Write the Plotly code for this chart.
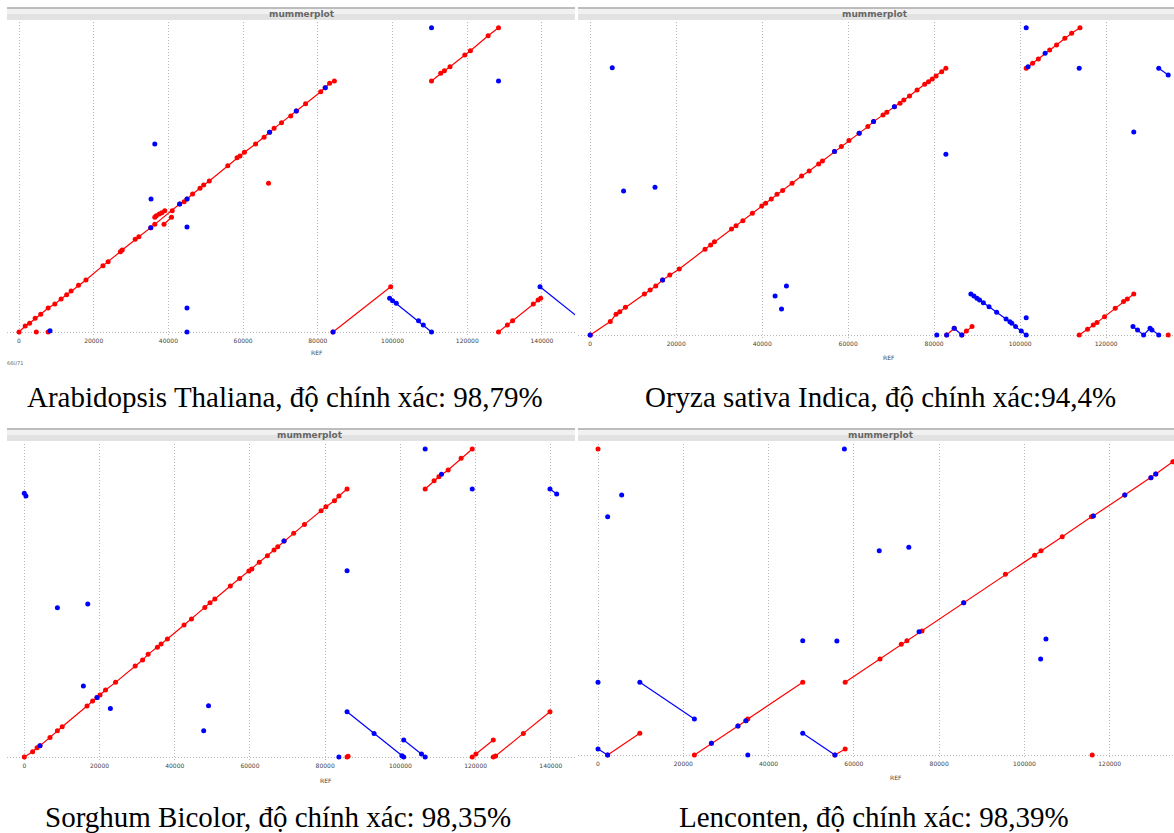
import plotly.graph_objects as go

W, H = 1174, 833

# ---------------- DATA (ref position, query position in bp) ----------------
# Panel 1: Arabidopsis Thaliana
tl_fwd_x = [0, 1660, 2840, 4330, 5820, 7800, 9590, 11270, 12760, 13950, 15930, 17920, 22480, 23860,
            27140, 27630, 31110, 32090, 35270, 36350, 41010, 43000, 44200, 44980, 46470, 48450, 49440,
            50940, 55890, 58360, 59160, 60340, 63330, 65610, 67080, 68290, 70270, 72740, 74230, 76720,
            80770, 81970, 83150, 84430, None,
            36350, 36760, 37560, 38250, 39030, None,
            38820, 40820, None,
            4630, None, 7800, None, 66790, None,
            84060, 99500, None,
            128360, 130740, 132130, 137680, 138960, 139650, None,
            110430, 112890, 113880, 115380, 119340, 120840, 125580, 128360]
tl_fwd_y = [0, 2020, 2920, 4590, 5950, 8060, 9410, 11090, 12540, 13780, 15690, 17470, 22300, 23620,
            26990, 27550, 31140, 32030, 35060, 36190, 40760, 43010, 43800, 44690, 46370, 48270, 49390,
            50740, 55890, 58580, 59140, 60370, 63170, 65410, 67090, 68430, 70340, 72580, 74260, 76710,
            80740, 82090, 83560, 84340, None,
            38540, 39080, 39650, 40080, 40760, None,
            36190, 38540, None,
            0, None, 0, None, 49960, None,
            0, 15220, None,
            0, 2350, 3800, 9410, 10750, 11320, None,
            84340, 86920, 87800, 89140, 93070, 94520, 99560, 102240]
tl_rev_x = [35270, None, 43000, None, 44980, None, 67080, None, 74230, None, 81970, None, 8300, None,
            35340, None, 36350, None, 44970, None, 44970, None, 44970, None, 84060, None,
            110430, None, 128360, None,
            99210, 100000, 101000, 106950, 108230, 110430, None,
            139470, 154600]
tl_rev_y = [35060, None, 43010, None, 44690, None, 67090, None, 74260, None, 82090, None, 440, None,
            44690, None, 63170, None, 35280, None, 8060, None, 0, None, 0, None,
            102240, None, 84340, None,
            11320, 10520, 9640, 3800, 2350, 0, None,
            15220, 0]

# Panel 2: Oryza sativa Indica
tr_fwd_x = [0, 4675, 6000, 6880, 8200, 12600, 13930, 15250, 16830, 18500, 20710, 26700, 28020, 28900,
            32870, 33920, 35510, 37710, 39910, 40800, 42120, 43440, 44760, 46960, 49170, 50930, 53130,
            54010, 56830, 58420, 60180, 62560, 64580, 65910, 68110, 68990, 70750, 72070, 72950, 74270,
            76030, 77800, 78680, 79560, 80440, 81760, 82730, None,
            101410, 102900, 104230, 106870, 108460, 110400, 111980, 113920, None,
            82910, 84670, None,
            86430, 87490, 88810, None,
            113740, 115680, 117000, 117880, 119640, 122120, 124050, 124930, 126430, None,
            134440]
tr_fwd_y = [0, 4180, 6420, 7240, 8590, 12720, 13960, 15200, 17060, 18610, 20470, 26560, 27900, 28940,
            32860, 33900, 35440, 37720, 39990, 40820, 42180, 43630, 44760, 47040, 49310, 50860, 53030,
            53960, 56850, 58400, 60260, 62530, 64600, 66150, 68210, 69040, 70790, 71830, 72860, 74100,
            75960, 77720, 78540, 79370, 80300, 81640, 82670, None,
            82670, 84220, 85560, 88350, 89900, 91970, 93520, 95280, None,
            0, 2080, None,
            0, 1250, 2600, None,
            0, 1770, 3110, 3840, 5690, 8280, 10350, 11170, 12720, None,
            0]
tr_rev_x = [0, None, 16830, None, 56830, None, 62560, None, 65910, None, 70750, None, 101850, None,
            105810, None, 101410, None, 113740, None, 126430, None, 82730, None, 5120, None, 7760, None,
            15070, None, 43000, None, 45640, None, 44500, None, 101410, None, 80620, None, 82910, None,
            132240, 134440, None,
            88540, 89250, 89950, 90570, 91450, 92770, 94540, 96740, 97620, 98070, 98950, 100260, 101410, None,
            84670, 86430, None,
            126250, 127310, 128720, 130220, 130660, 132240]
tr_rev_y = [0, None, 17060, None, 56850, None, 62530, None, 66150, None, 70790, None, 83190, None,
            87320, None, 95280, None, 82670, None, 62940, None, 56020, None, 82880, None, 44660, None,
            45800, None, 12100, None, 15200, None, 8070, None, 5380, None, 0, None, 0, None,
            82670, 80610, None,
            12720, 12100, 11380, 10860, 10030, 8790, 7040, 4970, 4140, 3630, 2600, 1250, 0, None,
            2080, 0, None,
            2600, 1560, 0, 2080, 1560, 0]

# Panel 3: Sorghum Bicolor
bl_fwd_x = [0, 2210, 3390, 4170, 6830, 8800, 10080, 16680, 18160, 19340, 20130, 21600, 24260, 29480,
            31450, 32930, 35390, 36380, 38050, 42480, 44450, 48000, 49380, 50660, 54790, 57260, 59720,
            60510, 62480, 64640, 66410, 67400, 69070, 71630, 74490, 78920, 80200, 82470, 83650, 85820, None,
            106590, 108960, 110240, 112700, 116150, 119100, None,
            85820, None, 86100, None,
            119100, 120080, 124710, None,
            124710, 125310, 132690, 139780]
bl_fwd_y = [0, 1680, 2950, 3590, 6250, 8370, 9640, 16230, 17820, 18990, 19730, 21330, 23770, 28970,
            30880, 32690, 34920, 35980, 37570, 42040, 43950, 47650, 49140, 50310, 54450, 56890, 59230,
            59860, 61990, 64110, 65920, 66980, 68780, 71230, 74090, 78450, 79720, 81630, 83120, 85350, None,
            85350, 88000, 89280, 91400, 95120, 98090, None,
            0, None, 200, None,
            0, 940, 5400, None,
            0, 300, 7520, 14420]
bl_rev_x = [4170, None, 19340, None, 69070, None, 110930, None, 106590, None, 119100, None,
            0, 430, None, 8800, None, 16880, None, 85820, None, 15700, None, 22890, None, 48980, None,
            47700, None, 83650, None,
            139780, 141560, None,
            85820, 93000, 100390, 100880, None,
            100880, 105610, 106590]
bl_rev_y = [3590, None, 18990, None, 68780, None, 90020, None, 98090, None, 85350, None,
            83970, 83120, None, 47550, None, 48710, None, 59330, None, 22600, None, 15480, None, 16330, None,
            8370, None, 0, None,
            85350, 83760, None,
            14420, 7520, 400, 0, None,
            5400, 940, 0]

# Panel 4: Lenconten
br_fwd_x = [57960, 66130, 71110, 72440, 75990, 85760, 95540, 102380, 103890, 108860, 115700, 116140,
            123520, 129650, 130800, 134800, 142000, None,
            22600, 26600, 32820, 34690, 35130, 48010, None,
            2260, 9810, None,
            55560, 57960, None,
            0, None, 115880]
br_fwd_y = [25290, 33410, 38510, 39790, 43150, 53010, 62870, 69480, 71110, 75980, 82940, 83170,
            90480, 96510, 97790, 102080, 109300, None,
            0, 4060, 10090, 11950, 12530, 25290, None,
            0, 7540, None,
            0, 2090, None,
            106490, None, 0]
br_rev_x = [26600, None, 32820, None, 34690, None, 75280, None, 85760, None, 116140, None, 123520, None,
            129650, None, 130800, None, 5550, None, 2260, None, 57780, None, 65950, None, 72880, None,
            48010, None, 56010, None, 105040, None, 103800, None, 35130, None, 0, None,
            9810, 22600, None,
            0, 2260, None,
            48010, 55560]
br_rev_y = [4060, None, 10090, None, 11950, None, 42920, None, 53010, None, 83170, None, 90480, None,
            96510, None, 97790, None, 90480, None, 82940, None, 106490, None, 71110, None, 72270, None,
            39790, None, 39670, None, 40370, None, 33410, None, 0, None, 25290, None,
            25290, 12530, None,
            2090, 0, None,
            7540, 0]

tick_vals_long = [0, 20000, 40000, 60000, 80000, 100000, 120000, 140000]
tick_vals_short = [0, 20000, 40000, 60000, 80000, 100000, 120000]
captions = ["Arabidopsis Thaliana, độ chính xác: 98,79%",
            "Oryza sativa Indica, độ chính xác:94,4%",
            "Sorghum Bicolor, độ chính xác: 98,35%",
            "Lenconten, độ chính xác: 98,39%"]

# ---------------- LAYOUT (pixel boxes) ----------------
panels = [
    dict(fx=tl_fwd_x, fy=tl_fwd_y, rx=tl_rev_x, ry=tl_rev_y, box=(7, 575, 22, 336),
         xr=[-3212, 148840], yr=[-1344, 104160], ticks=tick_vals_long,
         bar=(7, 575, 8, 20), title_x=302, title_y=14, ref=(317, 353), cap=(285, 397)),
    dict(fx=tr_fwd_x, fy=tr_fwd_y, rx=tr_rev_x, ry=tr_rev_y, box=(578, 1174, 22, 339),
         xr=[-2840, 135790], yr=[-1240, 97030], ticks=tick_vals_short,
         bar=(578, 1174, 8, 20), title_x=875, title_y=14, ref=(889, 357), cap=(880, 397)),
    dict(fx=bl_fwd_x, fy=bl_fwd_y, rx=bl_rev_x, ry=bl_rev_y, box=(7, 575, 444, 761),
         xr=[-4600, 146430], yr=[-1274, 99690], ticks=tick_vals_long,
         bar=(7, 575, 429, 441), title_x=310, title_y=435, ref=(326, 780), cap=(278, 817)),
    dict(fx=br_fwd_x, fy=br_fwd_y, rx=br_rev_x, ry=br_rev_y, box=(578, 1174, 444, 759),
         xr=[-4690, 135070], yr=[-1392, 108230], ticks=tick_vals_short,
         bar=(578, 1174, 429, 441), title_x=881, title_y=435, ref=(896, 777), cap=(874, 817)),
]

RED = "rgb(255,0,0)"
BLUE = "rgb(0,0,255)"
GRID = "#b8b8b8"

fig = go.Figure()
layout = dict(width=W, height=H, margin=dict(l=0, r=0, t=0, b=0),
              paper_bgcolor="white", plot_bgcolor="white", showlegend=False)
shapes, annotations = [], []

for i, p in enumerate(panels):
    sfx = "" if i == 0 else str(i + 1)
    xa, ya = "x" + sfx, "y" + sfx
    fig.add_trace(go.Scatter(x=p["fx"], y=p["fy"], mode="lines+markers", xaxis=xa, yaxis=ya,
                             line=dict(color=RED, width=1.2),
                             marker=dict(color=RED, size=5, line=dict(width=0)),
                             hoverinfo="skip"))
    fig.add_trace(go.Scatter(x=p["rx"], y=p["ry"], mode="lines+markers", xaxis=xa, yaxis=ya,
                             line=dict(color=BLUE, width=1.2),
                             marker=dict(color=BLUE, size=5, line=dict(width=0)),
                             hoverinfo="skip"))
    x0, x1, y0, y1 = p["box"]
    layout["xaxis" + sfx] = dict(domain=[x0 / W, x1 / W], range=p["xr"], anchor=ya,
                                 tickvals=p["ticks"], ticktext=[str(t) for t in p["ticks"]],
                                 showgrid=True, griddash="1px,2px", gridcolor=GRID, gridwidth=1,
                                 zeroline=False, showline=False, ticks="",
                                 tickfont=dict(size=6, color="#444", family="DejaVu Sans"),
                                 ticklabelstandoff=0, fixedrange=True)
    layout["yaxis" + sfx] = dict(domain=[1 - y1 / H, 1 - y0 / H], range=p["yr"], anchor=xa,
                                 tickvals=[0], showticklabels=False,
                                 showgrid=True, griddash="1px,2px", gridcolor=GRID, gridwidth=1,
                                 zeroline=False, showline=False, ticks="", fixedrange=True)
    # title bar
    bx0, bx1, by0, by1 = p["bar"]
    mid = (by0 + by1) / 2
    shapes.append(dict(type="rect", xref="paper", yref="paper", x0=bx0 / W, x1=bx1 / W,
                       y0=1 - mid / H, y1=1 - by0 / H, fillcolor="#f1f1f1", line=dict(width=0)))
    shapes.append(dict(type="rect", xref="paper", yref="paper", x0=bx0 / W, x1=bx1 / W,
                       y0=1 - by1 / H, y1=1 - mid / H, fillcolor="#e2e2e2", line=dict(width=0)))
    shapes.append(dict(type="line", xref="paper", yref="paper", x0=bx0 / W, x1=bx1 / W,
                       y0=1 - by0 / H, y1=1 - by0 / H, line=dict(color="#a8a8a8", width=1.5)))
    annotations.append(dict(text="<b>mummerplot</b>", xref="paper", yref="paper",
                            x=p["title_x"] / W, y=1 - p["title_y"] / H, showarrow=False,
                            xanchor="center", yanchor="middle",
                            font=dict(size=9, color="#666", family="DejaVu Sans")))
    annotations.append(dict(text="REF", xref="paper", yref="paper",
                            x=p["ref"][0] / W, y=1 - p["ref"][1] / H, showarrow=False,
                            xanchor="center", yanchor="middle",
                            font=dict(size=6, color="#444", family="DejaVu Sans")))
    annotations.append(dict(text=captions[i], xref="paper", yref="paper",
                            x=p["cap"][0] / W, y=1 - p["cap"][1] / H, showarrow=False,
                            xanchor="center", yanchor="middle",
                            font=dict(size=29, color="black", family="Liberation Serif")))

annotations.append(dict(text="66U71", xref="paper", yref="paper", x=15 / W, y=1 - 363 / H,
                        showarrow=False, xanchor="center", yanchor="middle",
                        font=dict(size=5, color="#666", family="DejaVu Sans")))

layout["shapes"] = shapes
layout["annotations"] = annotations
fig.update_layout(**layout)
fig.write_html("out.html", config={"displayModeBar": False, "staticPlot": True},
               post_script="document.body.style.margin='0px';document.body.style.padding='0px';")
